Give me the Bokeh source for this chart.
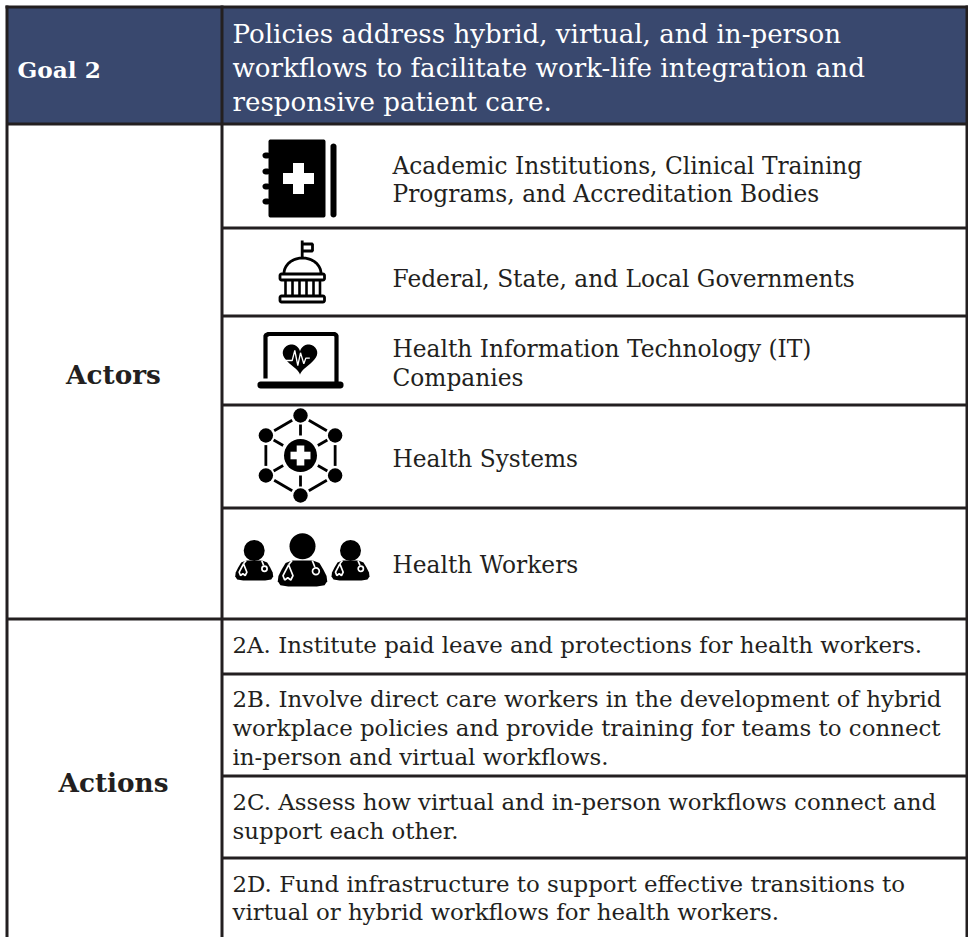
import numpy as np
from bokeh.plotting import figure
from bokeh.models import Range1d
from bokeh.core.properties import value
from bokeh.embed import file_html
from bokeh.resources import INLINE

W, H = 968, 937
INK = "#231f20"
NAVY = "#39486e"
FONT = "DejaVu Serif"

# table structure
left_x, split_x, right_x = 6.5, 221.5, 966.5
top_y, header_y, actors_end, bottom_y = 6.5, 123.5, 618.5, 937
actor_rows = [227.5, 315.5, 404.5, 507.5]
action_rows = [673.5, 775.5, 857.5]

# texts
goal_label = ["Goal 2"]
goal_text = ["Policies address hybrid, virtual, and in-person",
             "workflows to facilitate work-life integration and",
             "responsive patient care."]
goal_text_y = [43, 77, 111]
side_labels = ["Actors", "Actions"]
side_y = [384, 792]
actor_lines = ["Academic Institutions, Clinical Training",
               "Programs, and Accreditation Bodies",
               "Federal, State, and Local Governments",
               "Health Information Technology (IT)",
               "Companies",
               "Health Systems",
               "Health Workers"]
actor_y = [174, 202, 287, 357, 386, 467, 573]
action_lines = ["2A. Institute paid leave and protections for health workers.",
                "2B. Involve direct care workers in the development of hybrid",
                "workplace policies and provide training for teams to connect",
                "in-person and virtual workflows.",
                "2C. Assess how virtual and in-person workflows connect and",
                "support each other.",
                "2D. Fund infrastructure to support effective transitions to",
                "virtual or hybrid workflows for health workers."]
action_y = [653, 707, 736, 765, 810, 839, 892, 920]

p = figure(width=W, height=H, output_backend="svg", toolbar_location=None,
           x_range=Range1d(0, W), y_range=Range1d(H, 0), min_border=0,
           x_axis_type=None, y_axis_type=None, outline_line_color=None,
           background_fill_color="white", border_fill_color="white")
p.grid.visible = False
p.styles = {"position": "absolute", "left": "0px", "top": "0px"}

# header band
p.quad(left=[left_x], right=[right_x], top=[top_y], bottom=[header_y],
       fill_color=NAVY, line_color=None)

# rules
def hline(y, x0, x1):
    p.line([x0, x1], [y, y], line_color=INK, line_width=3)
def vline(x, y0, y1):
    p.line([x, x], [y0, y1], line_color=INK, line_width=3)

for x in (left_x, split_x, right_x):
    vline(x, top_y - 1.5, bottom_y)
hline(top_y, left_x - 1.5, right_x + 1.5)
hline(header_y, left_x, right_x)
hline(actors_end, left_x, right_x)
for y in actor_rows + action_rows:
    hline(y, split_x, right_x)

# text (the svg text sits lower than its nominal baseline by about 0.38 em)
DROP = 0.38
def texts(xs, ys, labels, size, color=INK, style="normal", align="left"):
    ys = [y - DROP * size for y in ys]
    p.text(x=xs, y=ys, text=labels, text_font=value(FONT), text_font_size=f"{size}px",
           text_color=color, text_font_style=style, text_align=align,
           text_baseline="alphabetic")

texts([17], [78], goal_label, 23.2, "white", "bold")
texts([232] * 3, goal_text_y, goal_text, 26.1, "white")
texts([113] * 2, side_y, side_labels, 26.3, INK, "bold", "center")
texts([392] * len(actor_lines), actor_y, actor_lines, 23.3)
texts([232] * len(action_lines), action_y, action_lines, 22.9)

# icons
def rbox(x0, y0, x1, y1, r, **kw):
    t = np.linspace(0, np.pi / 2, 6)
    xs = np.r_[x1 - r + r * np.sin(t), x1 - r + r * np.cos(t), x0 + r - r * np.sin(t), x0 + r - r * np.cos(t)]
    ys = np.r_[y0 + r - r * np.cos(t), y1 - r + r * np.sin(t), y1 - r + r * np.cos(t), y0 + r - r * np.sin(t)]
    p.patch(xs, ys, **kw)

def dot(x, y, r, color="black"):
    p.circle([x], [y], radius=r, fill_color=color, line_color=None)

def cross(cx, cy, arm, half, color="white"):
    p.quad(left=[cx - arm, cx - half], right=[cx + arm, cx + half],
           top=[cy - half, cy - arm], bottom=[cy + half, cy + arm],
           fill_color=color, line_color=None)

# book
rbox(268, 139, 325, 217, 2, fill_color="black", line_color=None)
rbox(330, 143, 336, 217, 3, fill_color="black", line_color=None)
for y in (155, 171, 186, 201):
    rbox(262, y - 3, 270, y + 3, 3, fill_color="black", line_color=None)
cross(298, 178, 15.5, 5.5)

# capitol
blk = dict(line_color="black", line_width=2.8)
p.line([301.7, 301.7], [240, 257], **blk)
p.line([301.7, 312, 312, 301.7], [243.5, 243.5, 250.5, 250.5], **blk)
t = np.linspace(np.pi, 2 * np.pi, 30)
p.line(302 + 18.5 * np.cos(t), 273 + 15.5 * np.sin(t), **blk)
rbox(279.5, 273.5, 324, 279.5, 1.5, fill_color="white", **blk)
rbox(279.5, 295.5, 324, 301.5, 1.5, fill_color="white", **blk)
for x in (285, 292, 299, 306, 313, 319.5):
    p.line([x, x], [280, 295], line_color="black", line_width=2.6)

# laptop
p.line([265, 265, 268, 334, 336, 336], [378, 335, 333.5, 333.5, 335, 382],
       line_color="black", line_width=4.2)
rbox(257, 381, 343, 388, 3, fill_color="black", line_color=None)
t = np.linspace(0, 2 * np.pi, 60)
hx = 16 * np.sin(t) ** 3
hy = -(13 * np.cos(t) - 5 * np.cos(2 * t) - 2 * np.cos(3 * t) - np.cos(4 * t))
p.patch(299.5 + 1.08 * hx, 356.5 + 1.05 * hy, fill_color="black", line_color=None)
ecg_x = [283, 291.7, 294.3, 297.3, 300, 303.3, 305.3, 309.3]
ecg_y = [360, 360, 350, 365, 352.3, 363.3, 357.7, 357.7]
p.line(ecg_x, ecg_y, line_color="white", line_width=1.3)

# network
cx, cy = 300, 455
angles = np.deg2rad(np.arange(-90, 270, 60))
nx, ny = cx + 40 * np.cos(angles), cy + 40 * np.sin(angles)
for a, x, y in zip(angles, nx, ny):
    dot(x, y, 7.2)
    p.line([cx + 20 * np.cos(a), cx + 31 * np.cos(a)], [cy + 20 * np.sin(a), cy + 31 * np.sin(a)],
           line_color="black", line_width=2.8)
for i in range(6):
    j = (i + 1) % 6
    ax, ay, bx, by = nx[i], ny[i], nx[j], ny[j]
    p.line([ax + (bx - ax) * .24, ax + (bx - ax) * .76], [ay + (by - ay) * .24, ay + (by - ay) * .76],
           line_color="black", line_width=2.8)
dot(cx, cy, 16.5)
cross(cx, cy, 10, 3.8)

# health workers
body_dx = [-8, 8, 13, 16, 18.5, 19, 17, 11, -11, -17, -19, -18.5, -16, -13]
body_dy = [0, 0, 2, 7, 12, 16, 19, 20, 20, 19, 16, 12, 7, 2]
loop_dx = [-10.7, -15, -13.7, -11.3, -9, -7.3, -10.7]
loop_dy = [3.3, 11.7, 15, 13.3, 15, 11.7, 3.3]

def worker(x, head_y, head_r, body_top, s):
    dot(x, head_y, head_r)
    p.patch(x + s * np.array(body_dx), body_top + s * np.array(body_dy), fill_color="black", line_color=None)
    w = dict(line_color="white", line_width=1.7)
    p.line(x + s * np.array(loop_dx), body_top + s * np.array(loop_dy), **w)
    p.line([x - 8 * s, x - 10.7 * s], [body_top, body_top + 3.3 * s], **w)
    p.line([x + 7.5 * s, x + 9.5 * s], [body_top, body_top + 5 * s], **w)
    p.circle([x + 10.3 * s], [body_top + 8.3 * s], radius=2.6 * s, fill_color="black", line_color="white", line_width=1.7)

worker(253.7, 550, 10.5, 560, 1.0)
worker(302, 545.7, 13, 560, 1.3)
worker(350, 550, 10.5, 560, 1.0)

open("out.html", "w").write(file_html(p, INLINE))
